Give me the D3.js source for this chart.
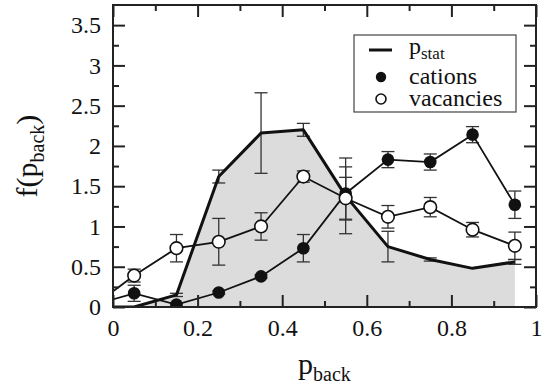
<!DOCTYPE html>
<html>
<head>
<meta charset="utf-8">
<script src="https://cdn.jsdelivr.net/npm/d3@7"></script>
<style>
  body { margin: 0; background: #fff; }
  text { font-family: "Liberation Serif", "Times New Roman", serif; fill: #111; }
</style>
</head>
<body>
<div id="chart"></div>
<script>
// data (first point at -0.05 lies outside the frame and is clipped)
const pBack = [-0.05, 0.05, 0.15, 0.25, 0.35, 0.45, 0.55, 0.65, 0.75, 0.85, 0.95];
const pStat = [0, 0, 0.15, 1.62, 2.16, 2.20, 1.38, 0.75, 0.59, 0.48, 0.56];
const pStatErr = [0, 0, 0.02, 0.08, 0.50, 0.08, 0.47, 0.19, 0.02, 0, 0.03];
const cations = [0.02, 0.17, 0.03, 0.18, 0.38, 0.73, 1.41, 1.83, 1.80, 2.14, 1.27];
const cationsErr = [0, 0.10, 0.02, 0.02, 0.02, 0.17, 0.33, 0.10, 0.10, 0.10, 0.17];
const vacancies = [0, 0.39, 0.73, 0.81, 1.00, 1.62, 1.35, 1.12, 1.24, 0.96, 0.76];
const vacanciesErr = [0, 0.08, 0.17, 0.29, 0.17, 0.07, 0.26, 0.14, 0.12, 0.09, 0.17];
const xTicks = [0, 0.2, 0.4, 0.6, 0.8, 1];
const xMinor = [0.1, 0.3, 0.5, 0.7, 0.9];
const yTicks = [0, 0.5, 1, 1.5, 2, 2.5, 3, 3.5];
const yMinor = [0.25, 0.75, 1.25, 1.75, 2.25, 2.75, 3.25];

const width = 549, height = 390;
const plotLeft = 113, plotRight = 536, plotTop = 5, plotBottom = 307;
const serif = '"Liberation Serif", "Times New Roman", serif';

const svg = d3.select('#chart').append('svg')
  .attr('width', width)
  .attr('height', height);

const x = d3.scaleLinear().domain([0, 1]).range([plotLeft, plotRight]);
const y = d3.scaleLinear().domain([0, 3.75]).range([plotBottom, plotTop]);

svg.append('defs').append('clipPath').attr('id', 'plotClip')
  .append('rect')
  .attr('x', plotLeft).attr('y', plotTop)
  .attr('width', plotRight - plotLeft).attr('height', plotBottom - plotTop);

const plot = svg.append('g').attr('clip-path', 'url(#plotClip)');

const rows = pBack.map((p, i) => ({
  p: p, stat: pStat[i], statErr: pStatErr[i],
  cat: cations[i], catErr: cationsErr[i],
  vac: vacancies[i], vacErr: vacanciesErr[i]
}));
const shown = rows.filter(d => d.p > 0);

// shaded area under p_stat
const area = d3.area()
  .x(d => x(d.p))
  .y0(y(0))
  .y1(d => y(d.stat));
plot.append('path')
  .datum(shown)
  .attr('fill', '#dcdcdc')
  .attr('d', area);

// error bars
function errorBars(key, errKey) {
  const g = plot.append('g')
    .attr('stroke', '#333')
    .attr('stroke-width', 1.3)
    .attr('fill', 'none');
  shown.filter(d => d[errKey] > 0).forEach(d => {
    const xp = x(d.p);
    const y1 = y(d[key] + d[errKey]), y2 = y(d[key] - d[errKey]);
    g.append('line').attr('x1', xp).attr('x2', xp).attr('y1', y1).attr('y2', y2);
    g.append('line').attr('x1', xp - 6.5).attr('x2', xp + 6.5).attr('y1', y1).attr('y2', y1);
    g.append('line').attr('x1', xp - 6.5).attr('x2', xp + 6.5).attr('y1', y2).attr('y2', y2);
  });
}
errorBars('stat', 'statErr');
errorBars('vac', 'vacErr');
errorBars('cat', 'catErr');

// p_stat thick line
plot.append('path')
  .datum(rows)
  .attr('fill', 'none')
  .attr('stroke', '#111')
  .attr('stroke-width', 3)
  .attr('stroke-linejoin', 'round')
  .attr('d', d3.line().x(d => x(d.p)).y(d => y(d.stat)));

// series lines
['vac', 'cat'].forEach(key => {
  plot.append('path')
    .datum(rows)
    .attr('fill', 'none')
    .attr('stroke', '#111')
    .attr('stroke-width', 1.8)
    .attr('d', d3.line().x(d => x(d.p)).y(d => y(d[key])));
});

// markers
plot.selectAll('.cat-dot')
  .data(shown)
  .enter().append('circle')
  .attr('class', 'cat-dot')
  .attr('cx', d => x(d.p))
  .attr('cy', d => y(d.cat))
  .attr('r', 6.3)
  .attr('fill', '#111');

plot.selectAll('.vac-dot')
  .data(shown)
  .enter().append('circle')
  .attr('class', 'vac-dot')
  .attr('cx', d => x(d.p))
  .attr('cy', d => y(d.vac))
  .attr('r', 6.3)
  .attr('fill', '#fff')
  .attr('stroke', '#111')
  .attr('stroke-width', 1.6);

// axes, ticks pointing inward on all four sides
function ticks(axis, translate, values, size, labels) {
  const g = svg.append('g')
    .attr('transform', translate)
    .call(axis.tickValues(values).tickSizeInner(-size).tickSizeOuter(0)
      .tickPadding(labels ? 12 : 0)
      .tickFormat(labels ? d3.format('') : () => ''));
  g.attr('font-family', serif);
  g.select('.domain').remove();
  g.selectAll('line').attr('stroke', '#222').attr('stroke-width', 2);
  g.selectAll('text').style('font-size', '24px').attr('fill', '#111')
    .style('font-family', serif);
  return g;
}
ticks(d3.axisBottom(x), `translate(0,${plotBottom})`, xTicks, 12, true);
ticks(d3.axisBottom(x), `translate(0,${plotBottom})`, xMinor, 6, false);
ticks(d3.axisTop(x), `translate(0,${plotTop})`, xTicks, 12, false);
ticks(d3.axisTop(x), `translate(0,${plotTop})`, xMinor, 6, false);
ticks(d3.axisLeft(y), `translate(${plotLeft},0)`, yTicks, 12, true);
ticks(d3.axisLeft(y), `translate(${plotLeft},0)`, yMinor, 6, false);
ticks(d3.axisRight(y), `translate(${plotRight},0)`, yTicks, 12, false);
ticks(d3.axisRight(y), `translate(${plotRight},0)`, yMinor, 6, false);

svg.append('rect')
  .attr('x', plotLeft).attr('y', plotTop)
  .attr('width', plotRight - plotLeft).attr('height', plotBottom - plotTop)
  .attr('fill', 'none')
  .attr('stroke', '#222')
  .attr('stroke-width', 2);

// axis titles
const xTitle = svg.append('text')
  .attr('x', (plotLeft + plotRight) / 2)
  .attr('y', 374)
  .attr('text-anchor', 'middle')
  .style('font-size', '30px');
xTitle.append('tspan').text('p');
xTitle.append('tspan').attr('dy', 7).style('font-size', '20px').text('back');

const yTitle = svg.append('text')
  .attr('transform', `translate(37,${(plotTop + plotBottom) / 2}) rotate(-90)`)
  .attr('text-anchor', 'middle')
  .style('font-size', '30px');
yTitle.append('tspan').text('f(p');
yTitle.append('tspan').attr('dy', 7).style('font-size', '20px').text('back');
yTitle.append('tspan').attr('dy', -7).text(')');

// legend
const legend = svg.append('g');
legend.append('rect')
  .attr('x', 354).attr('y', 35)
  .attr('width', 162).attr('height', 77)
  .attr('fill', '#fff')
  .attr('stroke', '#444')
  .attr('stroke-width', 1.2);

legend.append('line')
  .attr('x1', 369).attr('x2', 392)
  .attr('y1', 50).attr('y2', 50)
  .attr('stroke', '#111').attr('stroke-width', 3);
const lt = legend.append('text').attr('x', 409).attr('y', 54).style('font-size', '24px');
lt.append('tspan').text('p');
lt.append('tspan').attr('dy', 5).style('font-size', '17px').text('stat');

legend.append('circle').attr('cx', 381).attr('cy', 77).attr('r', 5.2).attr('fill', '#111');
legend.append('text').attr('x', 409).attr('y', 84).style('font-size', '24px').text('cations');

legend.append('circle').attr('cx', 381).attr('cy', 99).attr('r', 5)
  .attr('fill', '#fff').attr('stroke', '#111').attr('stroke-width', 1.6);
legend.append('text').attr('x', 409).attr('y', 106).style('font-size', '24px').text('vacancies');
</script>
</body>
</html>
